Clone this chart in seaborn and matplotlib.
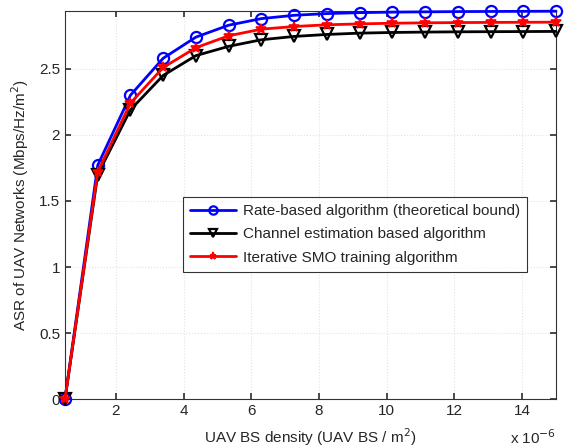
import numpy as np
import pandas as pd
import matplotlib
matplotlib.use("Agg")
import matplotlib.pyplot as plt
import seaborn as sns

# data (x in units of 1e-6 UAV BS / m^2)
density = [0.5, 1.467, 2.433, 3.4, 4.367, 5.333, 6.3, 7.267, 8.233, 9.2,
           10.167, 11.133, 12.1, 13.067, 14.033, 15.0]
rate_based = [0, 1.77, 2.30, 2.58, 2.74, 2.83, 2.88, 2.905, 2.918, 2.925,
              2.929, 2.931, 2.933, 2.934, 2.935, 2.936]
channel_est = [0, 1.70, 2.19, 2.45, 2.60, 2.67, 2.72, 2.745, 2.76, 2.77,
               2.775, 2.778, 2.78, 2.781, 2.782, 2.783]
smo = [0, 1.72, 2.24, 2.51, 2.66, 2.75, 2.80, 2.82, 2.833, 2.84,
       2.845, 2.848, 2.85, 2.851, 2.852, 2.853]

labels = ["Rate-based algorithm (theoretical bound)",
          "Channel estimation based algorithm",
          "Iterative SMO training algorithm"]

df = pd.DataFrame({
    "x": density * 3,
    "y": rate_based + channel_est + smo,
    "algo": [labels[0]] * 16 + [labels[1]] * 16 + [labels[2]] * 16,
})

sns.set_theme(style="ticks")
plt.rcParams["font.family"] = ["Liberation Sans", "DejaVu Sans"]

fig = plt.figure(figsize=(5.67, 4.48), dpi=100)
ax = fig.add_axes([0.1146, 0.109, 0.866, 0.866])

styles = {
    labels[0]: dict(color="blue", marker="o", mfc="none", mec="blue", ms=8, mew=1.6),
    labels[1]: dict(color="black", marker="v", mfc="none", mec="black", ms=8, mew=1.6),
    labels[2]: dict(color="red", marker="*", mfc="red", mec="red", ms=7, mew=1.2),
}
for lab in labels:
    sub = df[df["algo"] == lab]
    sns.lineplot(data=sub, x="x", y="y", ax=ax, label=lab, lw=2,
                 clip_on=False, zorder=3, **styles[lab])

ax.set_xlim(0.5, 15)
ax.set_ylim(0, max(rate_based))
ax.set_xticks([2, 4, 6, 8, 10, 12, 14])
ax.set_yticks([0, 0.5, 1, 1.5, 2, 2.5])
ax.set_yticklabels(["0", "0.5", "1", "1.5", "2", "2.5"])
ax.grid(True, color="#e2e2e2", linestyle=":", linewidth=0.8)
ax.tick_params(direction="in", top=True, right=True, labelsize=11, length=4,
               color="#333333")
for sp in ax.spines.values():
    sp.set_color("#333333")
    sp.set_linewidth(0.8)

ax.set_xlabel("UAV BS density (UAV BS / m$^2$)", fontsize=11, labelpad=6)
ax.set_ylabel("ASR of UAV Networks (Mbps/Hz/m$^2$)", fontsize=11, labelpad=6)
ax.text(1.0, -0.1, "x 10$^{-6}$", transform=ax.transAxes, ha="right",
        va="center", fontsize=11)

leg = ax.legend(loc="upper left", bbox_to_anchor=(0.24, 0.52), fontsize=11,
                frameon=True, fancybox=False, edgecolor="black",
                borderaxespad=0, handlelength=3, labelspacing=0.6,
                borderpad=0.45, handletextpad=0.5, markerscale=0.75)
leg.get_frame().set_linewidth(0.8)
leg.set_zorder(5)

plt.savefig("out.png", dpi=100)
